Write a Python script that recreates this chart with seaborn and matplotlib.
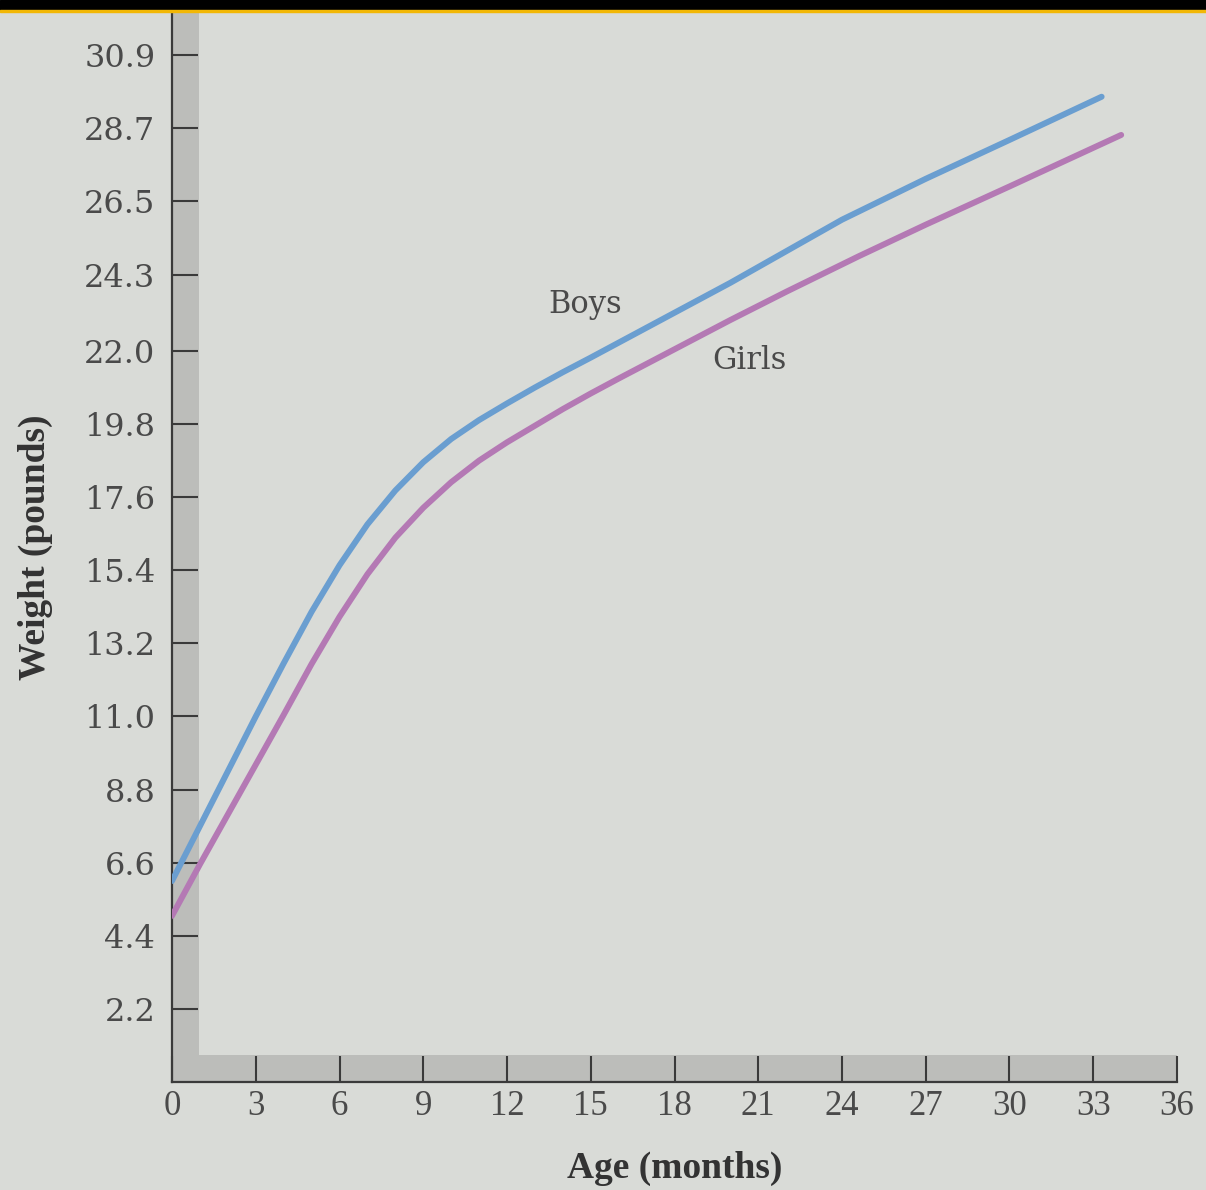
import pandas as pd
import matplotlib.pyplot as plt
import seaborn as sns
from matplotlib.patches import Rectangle

# values (month, pounds)
boys_months = [0, 1, 2, 3, 4, 5, 6, 7, 8, 9, 10, 11, 12, 13, 14, 15, 16, 18, 20, 22, 24, 27, 30, 33.3]
boys_weight = [6.05, 7.7, 9.35, 11.0, 12.6, 14.15, 15.55, 16.78, 17.8, 18.65, 19.35, 19.92, 20.42,
               20.9, 21.36, 21.8, 22.25, 23.15, 24.05, 25.0, 25.95, 27.18, 28.35, 29.65]

girls_months = [0, 1, 2, 3, 4, 5, 6, 7, 8, 9, 10, 11, 12, 13, 14, 15, 16, 18, 20, 22, 24.6, 27, 30, 34]
girls_weight = [5.0, 6.55, 8.05, 9.55, 11.05, 12.58, 14.0, 15.28, 16.38, 17.28, 18.05, 18.7, 19.25,
                19.75, 20.25, 20.72, 21.17, 22.05, 22.93, 23.78, 24.85, 25.8, 26.95, 28.5]

y_ticks = [2.2, 4.4, 6.6, 8.8, 11.0, 13.2, 15.4, 17.6, 19.8, 22.0, 24.3, 26.5, 28.7, 30.9]
x_ticks = list(range(0, 37, 3))

df = pd.DataFrame({
    'month': boys_months + girls_months,
    'weight': boys_weight + girls_weight,
    'sex': ['Boys'] * len(boys_months) + ['Girls'] * len(girls_months),
})

sns.set_style('white')
paper = '#d9dbd7'
ink = '#4a4a4a'
band = '#bcbdba'

fig = plt.figure(figsize=(12.06, 11.9), dpi=100, facecolor=paper)
ax = fig.add_axes([172 / 1206, 1 - 1082 / 1190, (1177 - 172) / 1206, (1082 - 12) / 1190])
ax.set_facecolor(paper)

# grey bands along the axes
ax.axvspan(0, 0.97, color=band, lw=0, zorder=0)
ax.axhspan(0, 0.8, color=band, lw=0, zorder=0)

sns.lineplot(data=df, x='month', y='weight', hue='sex', sort=False,
             palette={'Boys': '#6a9ed0', 'Girls': '#b479b4'},
             lw=4.3, legend=False, ax=ax, zorder=3)

ax.text(14.8, 23.4, 'Boys', fontsize=22, family='DejaVu Serif', color=ink, ha='center', va='center')
ax.text(20.7, 21.7, 'Girls', fontsize=22, family='DejaVu Serif', color=ink, ha='center', va='center')

ax.set_xlim(0, 36)
ax.set_ylim(0, 32.2)
ax.set_xticks(x_ticks)
ax.set_xticklabels([str(t) for t in x_ticks])
ax.set_yticks(y_ticks)
ax.set_yticklabels([f'{t:.1f}' for t in y_ticks])

for s in ['top', 'right']:
    ax.spines[s].set_visible(False)
for s in ['left', 'bottom']:
    ax.spines[s].set_color('#3a3a3a')
    ax.spines[s].set_linewidth(1.6)

ax.tick_params(axis='both', direction='in', length=19, width=1.5, color='#3a3a3a',
               labelcolor=ink, left=True, bottom=True)
ax.tick_params(axis='y', pad=12, labelsize=23)
ax.tick_params(axis='x', pad=6, labelsize=25)
for lab in ax.get_yticklabels():
    lab.set_family('DejaVu Serif')
for lab in ax.get_xticklabels():
    lab.set_family('Liberation Serif')

ax.set_xlabel('Age (months)', fontsize=27, family='Liberation Serif', weight='bold',
              color='#333333', labelpad=20)
ax.set_ylabel('Weight (pounds)', fontsize=27, family='Liberation Serif', weight='bold',
              color='#333333', labelpad=22)

# photo border at the top
fig.patches.append(Rectangle((0, 1 - 10 / 1190), 1, 10 / 1190, transform=fig.transFigure,
                             color='black', zorder=10))
fig.patches.append(Rectangle((0, 1 - 12 / 1190), 1, 2 / 1190, transform=fig.transFigure,
                             color='#f2b705', zorder=10))

plt.savefig('out.png', dpi=100, facecolor=paper)
plt.close()
